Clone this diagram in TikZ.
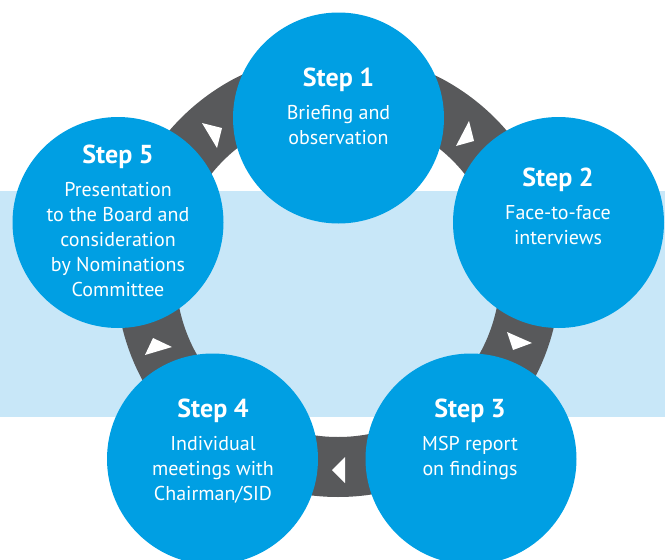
\documentclass[tikz,border=0pt]{standalone}
\usepackage{fontspec}
\setmainfont{PT Sans}
\definecolor{stepblue}{HTML}{009FE3}
\definecolor{ringgray}{HTML}{58595B}
\definecolor{bandblue}{HTML}{C8E7F8}
\newcommand{\steptitle}[1]{{\fontsize{26}{25}\selectfont\bfseries #1}\\[8pt]}
\begin{document}
\begin{tikzpicture}[x=1pt, y=-1pt,
    stepcircle/.style={circle, fill=stepblue, minimum size=211pt, inner sep=0pt},
    steptext/.style={text=white, align=center, anchor=north, inner sep=0pt, font=\fontsize{20}{25}\selectfont},
    arrowtip/.style={fill=white}]
  \useasboundingbox (0,0) rectangle (665,560);

  % light band behind the cycle
  \fill[bandblue] (0,191) rectangle (665,417);

  % grey ring with its arrow heads
  \fill[ringgray, even odd rule] (338,275) circle[radius=222pt] (338,275) circle[radius=162pt];
  \fill[arrowtip] (469,121) -- (456,146) -- (474,141) -- cycle;
  \fill[arrowtip] (507,332) -- (513,350) -- (532,343) -- cycle;
  \fill[arrowtip] (332,470) -- (345,457) -- (345,483) -- cycle;
  \fill[arrowtip] (153,338) -- (145,355) -- (172,347) -- cycle;
  \fill[arrowtip] (202,123) -- (222,128) -- (217,148) -- cycle;

  % the five steps
  \node[stepcircle] (s1) at (338.5,118) {};
  \node[stepcircle] (s2) at (558.5,222.5) {};
  \node[stepcircle] (s3) at (471,459) {};
  \node[stepcircle] (s4) at (212.5,459) {};
  \node[stepcircle] (s5) at (118,222.5) {};

  \node[steptext] (txt1) at (338.5,67.5) {\steptitle{Step 1}Briefing and\\observation};
  \node[steptext] (txt2) at (558,167.5) {\steptitle{Step 2}Face-to-face\\interviews};
  \node[steptext] (txt3) at (470,398.6) {\steptitle{Step 3}MSP report\\on findings};
  \node[steptext] (txt4) at (213,398.6) {\steptitle{Step 4}Individual\\meetings with\\Chairman/SID};
  \node[steptext] (txt5) at (118,144.3) {\steptitle{Step 5}Presentation\\to the Board and\\consideration\\by Nominations\\Committee};
\end{tikzpicture}
\end{document}
